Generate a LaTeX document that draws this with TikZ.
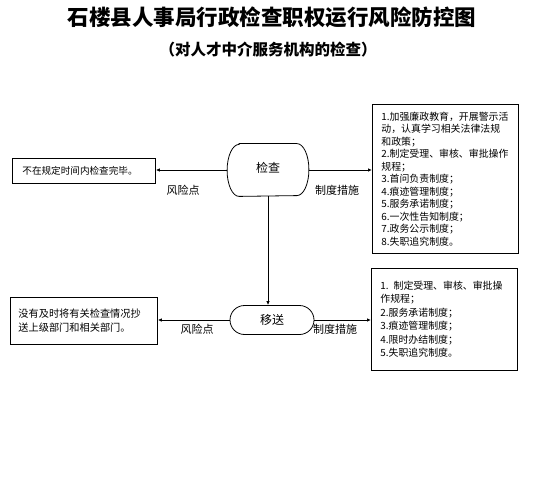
\documentclass[tikz,border=0pt]{standalone}
\usepackage{fontspec}
\setmainfont{Noto Sans CJK SC}
\usetikzlibrary{shapes.misc,arrows.meta,calc}
\begin{document}
\begin{tikzpicture}[x=1pt,y=-1pt,
  box/.style={draw, line width=0.8pt, align=left, anchor=north west, inner ysep=2pt},
  term/.style={line width=0.8pt, rounded rectangle, inner sep=0pt, font=\fontsize{12}{14}\selectfont},
  conn/.style={line width=0.8pt, -{Latex[length=4pt,width=3.5pt]}},
  lbl/.style={font=\fontsize{11}{13}\selectfont, inner sep=0pt}]
\useasboundingbox (0,0) rectangle (548,497);
\node[font=\fontsize{21.5}{24}\selectfont\bfseries] (title) at (272,17) {石楼县人事局行政检查职权运行风险防控图};
\node[font=\fontsize{15.5}{18}\selectfont\bfseries] (sub) at (268,50) {（对人才中介服务机构的检查）};

\node[term, rectangle, minimum width=81pt, minimum height=52pt, text depth=5pt] (jc) at (268,170) {检查};
\draw[line width=0.8pt] ($(jc.north west)+(12,0)$) -- ($(jc.north east)+(-12,0)$)
  arc[start angle=90, end angle=-90, x radius=12pt, y radius=26pt]
  -- ($(jc.south west)+(12,0)$)
  arc[start angle=270, end angle=90, x radius=12pt, y radius=26pt] -- cycle;
\node[term, draw, minimum width=84pt, minimum height=29pt] (ys) at (272,320) {移送};

\node[box, minimum width=143pt, minimum height=25pt, inner xsep=10pt, text width=123pt,
      font=\fontsize{9.6}{12}\selectfont] (L1) at (12,158) {不在规定时间内检查完毕。};
\node[box, minimum height=47pt, inner xsep=8pt, text width=131pt,
      font=\fontsize{10.2}{14}\selectfont] (L2) at (10,297) {没有及时将有关检查情况抄\\送上级部门和相关部门。};

\node[box, minimum height=149pt, inner xsep=9pt, text width=128pt,
      font=\fontsize{9.9}{12.5}\selectfont] (R1) at (372,104) {1.加强廉政教育，开展警示活\\动，认真学习相关法律法规\\和政策；\\2.制定受理、审核、审批操作\\规程；\\3.首问负责制度；\\4.痕迹管理制度；\\5.服务承诺制度；\\6.一次性告知制度；\\7.政务公示制度；\\8.失职追究制度。};
\node[box, minimum height=102pt, inner xsep=9pt, text width=128pt,
      font=\fontsize{9.9}{13.5}\selectfont] (R2) at (371,268) {1. 制定受理、审核、审批操\\作规程；\\2.服务承诺制度；\\3.痕迹管理制度；\\4.限时办结制度；\\5.失职追究制度。};

\draw[conn] (jc.west) -- (jc.west -| L1.east);
\draw[conn] (jc.east) -- (jc.east -| R1.west);
\draw[conn] (jc.south) -- (jc.south |- ys.north);
\draw[conn] (ys.west) -- (ys.west -| L2.east);
\draw[conn] (ys.east) -- (ys.east -| R2.west);

\node[lbl] (f1) at (183,190) {风险点};
\node[lbl] (z1) at (337,190) {制度措施};
\node[lbl] (f2) at (197,329) {风险点};
\node[lbl] (z2) at (335,329) {制度措施};
\end{tikzpicture}
\end{document}
